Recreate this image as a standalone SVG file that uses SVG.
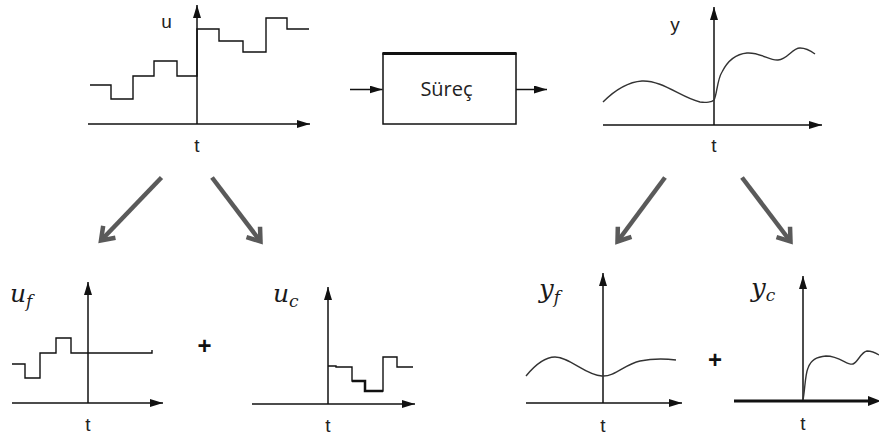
<svg xmlns="http://www.w3.org/2000/svg" width="879" height="439" viewBox="0 0 879 439">
<defs>
<marker id="ah" markerUnits="userSpaceOnUse" viewBox="0 0 13 8" refX="13" refY="4" markerWidth="13" markerHeight="8" orient="auto">
<path d="M0,0 L13,4 L0,8 z" fill="#111"/>
</marker>
<marker id="chev" markerUnits="userSpaceOnUse" viewBox="-16 -12 20 24" refX="0" refY="0" markerWidth="20" markerHeight="24" orient="auto" overflow="visible">
<path d="M-12,-8.5 L0,0 L-12,8.5" fill="none" stroke="#5a5a5a" stroke-width="4.5"/>
</marker>
<style>
.ax{stroke:#111;stroke-width:1.5;fill:none;marker-end:url(#ah)}
.sig{stroke:#111;stroke-width:1.4;fill:none}
.crv{stroke:#333;stroke-width:1.4;fill:none}
.lbl{font-family:"Liberation Sans",Arial,sans-serif;font-size:19px;fill:#222;text-anchor:middle}
.math{font-family:"DejaVu Serif","Liberation Serif",serif;font-style:italic;fill:#1a1a1a}
.plus{font-family:"Liberation Sans",Arial,sans-serif;font-weight:bold;font-size:24px;fill:#111;text-anchor:middle}
.big{stroke:#5a5a5a;stroke-width:4.5;fill:none;marker-end:url(#chev)}
</style>
</defs>
<rect width="879" height="439" fill="#fff"/>

<g id="plot-u">
<path class="ax" d="M88,124 H310"/>
<path class="ax" d="M197,124 V5"/>
<path class="sig" d="M90,85 H111 V99 H133 V76 H154 V61 H177 V76 H197 V29 H219 V41 H243 V52 H266 V18 H287 V29 H309"/>
<text class="lbl" x="166.5" y="28">u</text>
<text class="lbl" x="197" y="152">t</text>
</g>

<g id="process">
<rect x="383" y="53.5" width="133" height="70.5" fill="#fff" stroke="#111" stroke-width="1.5"/>
<line x1="382.5" y1="53.5" x2="516.5" y2="53.5" stroke="#111" stroke-width="3"/>
<text x="446.5" y="95.5" font-family="'Open Sans','Liberation Sans',sans-serif" font-size="20" fill="#222" text-anchor="middle">Süreç</text>
</g>

<g id="plot-y">
<path class="ax" d="M603,125 H822"/>
<path class="ax" d="M714,125 V7"/>
<path class="crv" d="M603,102 C615,90 628,82 642,81 C662,80 682,98 700,102 C706,103 712,102 714,100 C717,95 717,80 722,72 C728,60 736,54 747,53 C760,52 770,61 778,60 C788,59 792,48 800,48 C806,48 811,51 815,54"/>
<text class="lbl" x="675" y="31">y</text>
<text class="lbl" x="714" y="152">t</text>
</g>

<g id="plot-uf">
<path class="ax" d="M12,403 H163"/>
<path class="ax" d="M88,403 V282"/>
<path class="sig" d="M12,364 H25 V378 H40 V353 H56 V338 H71 V353 H152 V350"/>
<text class="math" x="10" y="302" font-size="25">u<tspan font-size="17" dy="5">f</tspan></text>
<text class="lbl" x="88" y="431">t</text>
</g>

<text id="plus-u" class="plus" x="204.5" y="353.5">+</text>

<g id="plot-uc">
<path class="ax" d="M252,404 H415"/>
<path class="ax" d="M328,404 V287"/>
<path class="sig" d="M328,366 H336 V367 H352 V381 H365 V391 H383 V357 H397 V367 H413"/>
<path d="M352,381 H365 V391 H383" stroke="#111" stroke-width="2.5" fill="none"/>
<text class="math" x="273" y="302" font-size="25">u<tspan font-size="17" dy="5">c</tspan></text>
<text class="lbl" x="328" y="432">t</text>
</g>

<g id="plot-yf">
<path class="ax" d="M526,403 H682"/>
<path class="ax" d="M603,403 V273"/>
<path class="crv" d="M526,376 C535,365 545,357 555,357 C570,357 585,375 602,376 C615,377 625,364 640,361 C650,359 660,358 676,360"/>
<text class="math" x="539" y="298" font-size="26">y<tspan font-size="17" dy="5">f</tspan></text>
<text class="lbl" x="603" y="432">t</text>
</g>

<text id="plus-y" class="plus" x="715" y="367.5">+</text>

<g id="plot-yc">
<path d="M734,401 H868" stroke="#111" stroke-width="3" fill="none"/>
<path d="M868,396 L881,401 L868,406 z" fill="#111"/>
<path class="ax" d="M803,401 V276"/>
<path class="crv" d="M803,400 C805,390 805,375 808,368 C811,360 816,357 826,356 C840,356 848,366 853,364 C858,362 861,352 867,351 C872,351 876,353 879,355"/>
<text class="math" x="751" y="297" font-size="26">y<tspan font-size="17" dy="4">c</tspan></text>
<text class="lbl" x="803" y="430">t</text>
</g>

<g id="connectors">
<path class="ax" d="M350,89.5 H382.5"/>
<path class="ax" d="M516,89.5 H547"/>
<path class="big" d="M161.5,177.5 L101,240.5"/>
<path class="big" d="M212,177.5 L260.5,241.5"/>
<path class="big" d="M665,177.5 L617.5,241.5"/>
<path class="big" d="M742,177.5 L790.5,241.5"/>
</g>
</svg>
